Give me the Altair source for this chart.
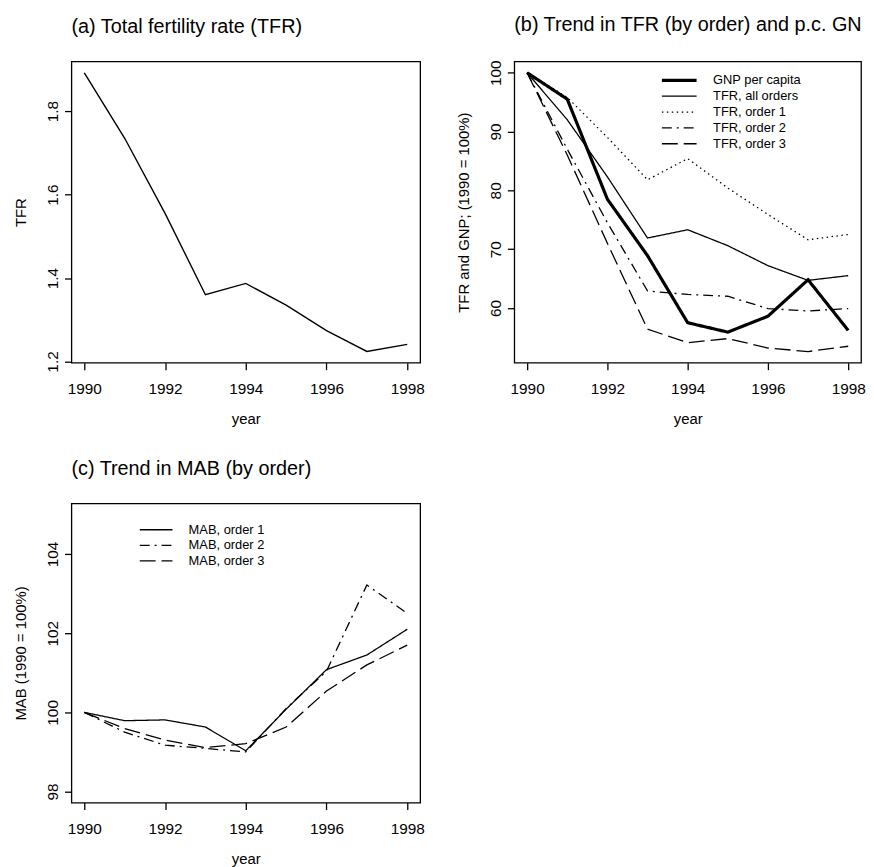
import altair as alt
import pandas as pd

# ---------------- data ----------------
years = [1990, 1991, 1992, 1993, 1994, 1995, 1996, 1997, 1998]

# (a) total fertility rate
tfr = [1.892, 1.735, 1.555, 1.360, 1.387, 1.335, 1.274, 1.224, 1.241]

# (b) indices, 1990 = 100
series_b = ["GNP per capita", "TFR, all orders", "TFR, order 1", "TFR, order 2", "TFR, order 3"]
gnp_pc = [100, 95.5, 78.5, 68.9, 57.5, 55.9, 58.6, 64.8, 56.2]
tfr_all = [100, 92.0, 82.3, 71.9, 73.3, 70.6, 67.2, 64.7, 65.5]
tfr_o1 = [100, 95.8, 89.0, 81.8, 85.4, 80.4, 75.9, 71.6, 72.5]
tfr_o2 = [100, 87.0, 74.5, 62.9, 62.3, 62.0, 59.9, 59.5, 59.9]
tfr_o3 = [100, 86.0, 71.0, 56.4, 54.1, 54.8, 53.2, 52.6, 53.5]

# (c) mean age at birth, 1990 = 100
series_c = ["MAB, order 1", "MAB, order 2", "MAB, order 3"]
mab_o1 = [100, 99.79, 99.81, 99.63, 99.03, 100.08, 101.08, 101.45, 102.1]
mab_o2 = [100, 99.50, 99.17, 99.09, 99.00, 100.10, 101.04, 103.22, 102.5]
mab_o3 = [100, 99.59, 99.30, 99.11, 99.21, 99.63, 100.54, 101.20, 101.7]

x_ticks = [1990, 1992, 1994, 1996, 1998]
ya_ticks = [1.2, 1.4, 1.6, 1.8]
yb_ticks = [60, 70, 80, 90, 100]
yc_ticks = [98, 100, 102, 104]

# ---------------- tables ----------------
df_a = pd.DataFrame({"year": years, "tfr": tfr})

b_vals = [gnp_pc, tfr_all, tfr_o1, tfr_o2, tfr_o3]
df_b = pd.concat(
    [pd.DataFrame({"year": years, "value": v, "series_b": s}) for s, v in zip(series_b, b_vals)],
    ignore_index=True,
)

c_vals = [mab_o1, mab_o2, mab_o3]
df_c = pd.concat(
    [pd.DataFrame({"year": years, "value": v, "series_c": s}) for s, v in zip(series_c, c_vals)],
    ignore_index=True,
)

FONT = "Liberation Sans"
XDOM = [1989.68, 1998.32]

W_A, H_A = 352, 304
W_B, H_B = 350, 304
W_C, H_C = 352, 302


def x_axis(w):
    return alt.Axis(values=x_ticks, format="d", title="year", titleX=w / 2, titleY=61)


def y_axis(title, ticks, fmt, h):
    return alt.Axis(values=ticks, format=fmt, title=title, titleX=-46, titleY=h / 2)


def panel_title(text):
    return alt.TitleParams(text=text, frame="group", anchor="start")


# ---------------- panel (a) ----------------
chart_a = (
    alt.Chart(df_a)
    .mark_line(color="black", strokeWidth=1.4)
    .encode(
        x=alt.X("year:Q", scale=alt.Scale(domain=XDOM, nice=False, zero=False), axis=x_axis(W_A)),
        y=alt.Y(
            "tfr:Q",
            scale=alt.Scale(domain=[1.197, 1.919], nice=False, zero=False),
            axis=y_axis("TFR", ya_ticks, ".1f", H_A),
        ),
    )
    .properties(width=W_A, height=H_A, title=panel_title("(a) Total fertility rate (TFR)"))
)

# ---------------- panel (b) ----------------
leg_b = alt.Legend(
    orient="none", legendX=160, legendY=12.5, title=None,
    symbolType="M-5,0H5", symbolSize=49, labelOffset=27.6, rowPadding=2, padding=0,
    labelFontSize=13, labelFont=FONT, labelColor="black", symbolStrokeColor="black",
)
chart_b = (
    alt.Chart(df_b)
    .mark_line(color="black")
    .encode(
        x=alt.X("year:Q", scale=alt.Scale(domain=XDOM, nice=False, zero=False), axis=x_axis(W_B)),
        y=alt.Y(
            "value:Q",
            scale=alt.Scale(domain=[50.7, 101.9], nice=False, zero=False),
            axis=y_axis("TFR and GNP; (1990 = 100%)", yb_ticks, "d", H_B),
        ),
        strokeDash=alt.StrokeDash(
            "series_b:N",
            scale=alt.Scale(domain=series_b, range=[[1, 0], [1, 0], [1.5, 3.5], [10, 5, 2, 5], [16, 6]]),
            legend=leg_b,
        ),
        strokeWidth=alt.StrokeWidth(
            "series_b:N",
            scale=alt.Scale(type="ordinal", domain=series_b, range=[3.2, 1.3, 1.3, 1.3, 1.3]),
            legend=leg_b,
        ),
    )
    .properties(width=W_B, height=H_B, title=panel_title("(b) Trend in TFR (by order) and p.c. GN"))
)

# ---------------- panel (c) ----------------
leg_c = alt.Legend(
    orient="none", legendX=79, legendY=20.1, title=None,
    symbolType="M-5,0H5", symbolSize=43.6, labelOffset=26.3, rowPadding=1.7, padding=0,
    labelFontSize=13, labelFont=FONT, labelColor="black", symbolStrokeColor="black",
    symbolStrokeWidth=1.3,
)
chart_c = (
    alt.Chart(df_c)
    .mark_line(color="black", strokeWidth=1.3)
    .encode(
        x=alt.X("year:Q", scale=alt.Scale(domain=XDOM, nice=False, zero=False), axis=x_axis(W_C)),
        y=alt.Y(
            "value:Q",
            scale=alt.Scale(domain=[97.72, 105.28], nice=False, zero=False),
            axis=y_axis("MAB (1990 = 100%)", yc_ticks, "d", H_C),
        ),
        strokeDash=alt.StrokeDash(
            "series_c:N",
            scale=alt.Scale(domain=series_c, range=[[1, 0], [10, 5, 2, 5], [16, 6]]),
            legend=leg_c,
        ),
    )
    .properties(width=W_C, height=H_C, title=panel_title("(c) Trend in MAB (by order)"))
)

chart = (
    alt.concat(chart_a, chart_b, chart_c, columns=2,
               spacing={"row": 142, "column": 95}, bounds="flush")
    .resolve_scale(strokeDash="independent", strokeWidth="independent")
    .resolve_legend(strokeDash="independent", strokeWidth="independent")
    .properties(padding={"left": 5, "top": 2, "right": 0, "bottom": 0})
    .configure_view(stroke="black", strokeWidth=1.3, fill=None)
    .configure_axis(
        domain=False, grid=False, ticks=True, tickColor="black", tickWidth=1.3, tickSize=7,
        labelFont=FONT, labelFontSize=15.5, labelColor="black", labelOverlap=False, labelBound=False,
        titleFont=FONT, titleFontSize=15, titleColor="black", titleFontWeight="normal",
    )
    .configure_axisX(labelAngle=0, labelBaseline="alphabetic", labelPadding=24.5,
                     titleBaseline="alphabetic", labelFlush=False)
    .configure_axisY(labelAngle=270, labelAlign="center", labelBaseline="alphabetic", labelPadding=7,
                     titleBaseline="alphabetic", titleAngle=270, titleAlign="center")
    .configure_title(font=FONT, fontSize=20, fontWeight="normal", anchor="start",
                     baseline="alphabetic", offset=25, color="black")
)

chart.save("out.html", embed_options={"renderer": "svg", "actions": False})
